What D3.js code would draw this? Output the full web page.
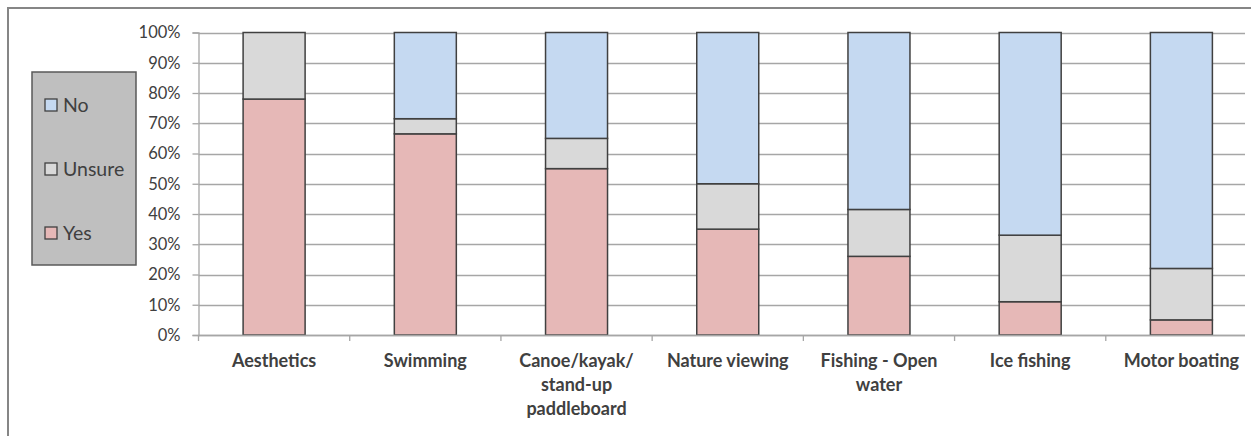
<!DOCTYPE html>
<html>
<head>
<meta charset="utf-8">
<script src="https://cdn.jsdelivr.net/npm/d3@7"></script>
<style>
  html, body { margin: 0; padding: 0; background: #fff; }
  svg { display: block; }
</style>
</head>
<body>
<svg id="chart" width="1251" height="436"></svg>
<script>
// Activities surveyed, with each line of the wrapped axis label
const categories = ["Aesthetics", "Swimming", "Canoe/kayak/ stand-up paddleboard", "Nature viewing", "Fishing - Open water", "Ice fishing", "Motor boating"];
const categoryLines = [
  ["Aesthetics"],
  ["Swimming"],
  ["Canoe/kayak/", "stand-up", "paddleboard"],
  ["Nature viewing"],
  ["Fishing - Open", "water"],
  ["Ice fishing"],
  ["Motor boating"]
];

// Share of responses (%) per activity
const yesValues    = [78, 66.5, 55, 35, 26, 11, 5];
const unsureValues = [22, 5, 10, 15, 15.5, 22, 17];
const noValues     = [0, 28.5, 35, 50, 58.5, 67, 78];

const seriesNames = ["Yes", "Unsure", "No"];
const seriesColors = ["#e6b8b7", "#d9d9d9", "#c5d9f1"];
const yTicks = [0, 10, 20, 30, 40, 50, 60, 70, 80, 90, 100];

const svg = d3.select("#chart");
const font = "Lato, 'Open Sans', sans-serif";

// Outer chart frame
svg.append("rect")
  .attr("x", 8).attr("y", 8)
  .attr("width", 1260).attr("height", 450)
  .attr("fill", "#fff").attr("stroke", "#868686").attr("stroke-width", 2);

const plot = { left: 198.5, bandRight: 1257, gridRight: 1245, top: 32.5, bottom: 335 };

const x = d3.scaleBand()
  .domain(categories)
  .range([plot.left, plot.bandRight])
  .paddingInner(0.59).paddingOuter(0.295);

const y = d3.scaleLinear().domain([0, 100]).range([plot.bottom, plot.top]);

// Horizontal gridlines
svg.append("g")
  .selectAll("line")
  .data(yTicks)
  .join("line")
  .attr("x1", plot.left).attr("x2", plot.gridRight)
  .attr("y1", d => Math.round(y(d)) + 0.5).attr("y2", d => Math.round(y(d)) + 0.5)
  .attr("stroke", "#a6a6a6").attr("stroke-width", 1.3);

// Stacked data
const rows = categories.map((c, i) => ({ cat: c, Yes: yesValues[i], Unsure: unsureValues[i], No: noValues[i] }));
const stack = d3.stack().keys(seriesNames)(rows);

svg.append("g")
  .selectAll("g")
  .data(stack)
  .join("g")
  .attr("fill", (d, i) => seriesColors[i])
  .selectAll("rect")
  .data(d => d.filter(s => s[1] - s[0] > 0))
  .join("rect")
  .attr("x", d => x(d.data.cat))
  .attr("width", x.bandwidth())
  .attr("y", d => y(d[1]))
  .attr("height", d => y(d[0]) - y(d[1]))
  .attr("stroke", "#404040").attr("stroke-width", 1.5);

// Y axis
const yAxis = d3.axisLeft(y).tickValues(yTicks).tickSize(6).tickFormat(d => d + "%");
const gy = svg.append("g").attr("transform", `translate(${plot.left},0)`).call(yAxis);
gy.select(".domain").attr("stroke", "#a6a6a6").attr("stroke-width", 1.3);
gy.selectAll(".tick line").attr("stroke", "#a6a6a6").attr("stroke-width", 1.3);
gy.selectAll(".tick text")
  .attr("fill", "#404040").attr("font-family", font).attr("font-size", 16.5).attr("x", -18);

// X axis with ticks between categories
const boundaries = d3.range(categories.length + 1)
  .map(i => plot.left + i * x.step())
  .filter(v => v <= plot.gridRight);
svg.append("line")
  .attr("x1", plot.left).attr("x2", plot.gridRight)
  .attr("y1", plot.bottom + 0.5).attr("y2", plot.bottom + 0.5)
  .attr("stroke", "#a6a6a6").attr("stroke-width", 1.3);
svg.append("g")
  .selectAll("line")
  .data(boundaries)
  .join("line")
  .attr("x1", d => d).attr("x2", d => d)
  .attr("y1", plot.bottom).attr("y2", plot.bottom + 6)
  .attr("stroke", "#a6a6a6").attr("stroke-width", 1.3);

// Category labels
const labels = svg.append("g")
  .selectAll("text")
  .data(categories)
  .join("text")
  .attr("x", d => x(d) + x.bandwidth() / 2)
  .attr("y", 367)
  .attr("text-anchor", "middle")
  .attr("font-family", font).attr("font-size", 18).attr("font-weight", "bold")
  .attr("fill", "#404040");
labels.each(function(d, i) {
  d3.select(this).selectAll("tspan")
    .data(categoryLines[i])
    .join("tspan")
    .attr("x", x(d) + x.bandwidth() / 2)
    .attr("dy", (t, j) => j === 0 ? 0 : 24)
    .text(t => t);
});

// Legend
const legend = svg.append("g");
legend.append("rect")
  .attr("x", 32).attr("y", 72).attr("width", 104).attr("height", 193)
  .attr("fill", "#bfbfbf").attr("stroke", "#595959").attr("stroke-width", 1.5);
const legendOrder = [2, 1, 0];
const legendItems = legend.selectAll("g.item")
  .data(legendOrder)
  .join("g")
  .attr("class", "item")
  .attr("transform", (d, i) => `translate(45, ${105 + i * 64})`);
legendItems.append("rect")
  .attr("x", 0).attr("y", -6).attr("width", 12).attr("height", 12)
  .attr("fill", d => seriesColors[d]).attr("stroke", "#404040").attr("stroke-width", 1.3);
legendItems.append("text")
  .attr("x", 18).attr("y", 7)
  .attr("font-family", font).attr("font-size", 19.5)
  .attr("fill", "#404040")
  .text(d => seriesNames[d]);
</script>
</body>
</html>
